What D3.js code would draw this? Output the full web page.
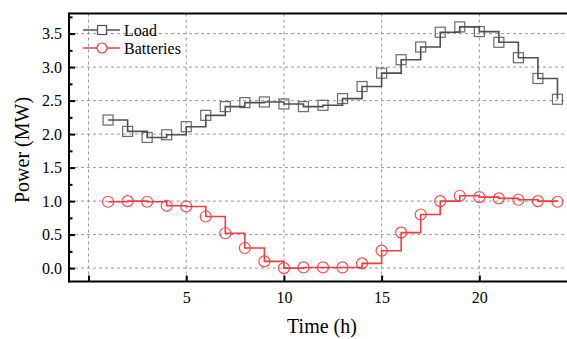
<!DOCTYPE html>
<html>
<head>
<meta charset="utf-8">
<script src="https://cdn.jsdelivr.net/npm/d3@7"></script>
<style>
  body { margin: 0; background: #fff; }
  svg { display: block; }
  text { font-family: "Liberation Serif", "Times New Roman", serif; fill: #000; }
</style>
</head>
<body>
<svg id="chart" width="567" height="339"></svg>
<script>
const hours = [1,2,3,4,5,6,7,8,9,10,11,12,13,14,15,16,17,18,19,20,21,22,23,24];
const load = [2.21,2.04,1.95,1.99,2.11,2.28,2.41,2.47,2.48,2.45,2.41,2.43,2.53,2.71,2.91,3.11,3.30,3.52,3.60,3.53,3.37,3.14,2.83,2.52];
const batteries = [0.99,1.00,0.99,0.93,0.92,0.77,0.52,0.30,0.10,0.00,0.01,0.01,0.01,0.07,0.26,0.53,0.80,1.00,1.08,1.06,1.04,1.02,1.00,0.99];
const xTicks = [0,5,10,15,20];
const xTickLabels = ["","5","10","15","20"];
const yTicks = [0,0.5,1.0,1.5,2.0,2.5,3.0,3.5];
const yMinorTicks = [0.25,0.75,1.25,1.75,2.25,2.75,3.25,3.75];
const seriesNames = ["Load","Batteries"];
const seriesColors = ["#505050","#f43c3c"];

(function () {
const svg = d3.select("#chart");
const x = d3.scaleLinear().domain([-1, 25]).range([69, 577]);
const y = d3.scaleLinear().domain([-0.2, 3.8]).range([281.5, 13.5]);
const pLeft = 69, pRight = 567, pTop = 13.5, pBottom = 281.5;
const serif = "'Liberation Serif', 'Times New Roman', serif";

// gridlines
const grid = svg.append("g");
grid.selectAll("line.v").data(xTicks).join("line").attr("class", "v")
  .attr("x1", d => x(d)).attr("x2", d => x(d))
  .attr("y1", pTop).attr("y2", pBottom)
  .attr("stroke", "#9a9a9a").attr("stroke-width", 1).attr("stroke-dasharray", "3,3");
grid.selectAll("line.h").data(yTicks).join("line").attr("class", "h")
  .attr("x1", pLeft).attr("x2", pRight)
  .attr("y1", d => y(d)).attr("y2", d => y(d))
  .attr("stroke", "#9a9a9a").attr("stroke-width", 1).attr("stroke-dasharray", "3,3");

// series
const lineGen = d3.line().x(d => x(d[0])).y(d => y(d[1])).curve(d3.curveStepAfter);
const loadPts = hours.map((h,i) => [h, load[i]]);
const batPts = hours.map((h,i) => [h, batteries[i]]);

svg.append("path").datum(loadPts).attr("d", lineGen)
  .attr("fill", "none").attr("stroke", seriesColors[0]).attr("stroke-width", 1.6);
svg.append("g").selectAll("rect").data(loadPts).join("rect")
  .attr("x", d => x(d[0]) - 5).attr("y", d => y(d[1]) - 5)
  .attr("width", 10).attr("height", 10)
  .attr("fill", "none").attr("stroke", seriesColors[0]).attr("stroke-width", 1.2).attr("stroke-opacity", 0.85);

svg.append("path").datum(batPts).attr("d", lineGen)
  .attr("fill", "none").attr("stroke", seriesColors[1]).attr("stroke-width", 1.6);
svg.append("g").selectAll("circle").data(batPts).join("circle")
  .attr("cx", d => x(d[0])).attr("cy", d => y(d[1])).attr("r", 5.5)
  .attr("fill", "none").attr("stroke", seriesColors[1]).attr("stroke-width", 1.2).attr("stroke-opacity", 0.9);

// axes
const yAxis = d3.axisLeft(y).tickValues(yTicks).tickFormat(d3.format(".1f")).tickSizeInner(-6).tickSizeOuter(0).tickPadding(7);
const gy = svg.append("g").attr("transform", `translate(${pLeft},0)`).call(yAxis)
  .attr("font-family", serif).attr("font-size", 16);
gy.select(".domain").remove();
gy.selectAll(".tick line").attr("stroke", "#000").attr("stroke-width", 2);
gy.selectAll(".tick text").style("font-size", "16px").style("font-family", serif).attr("fill", "#000");
const gym = svg.append("g").attr("transform", `translate(${pLeft},0)`)
  .call(d3.axisLeft(y).tickValues(yMinorTicks).tickFormat("").tickSizeInner(-3.5).tickSizeOuter(0));
gym.select(".domain").remove();
gym.selectAll(".tick line").attr("stroke", "#000").attr("stroke-width", 2);

const xAxis = d3.axisBottom(x).tickValues(xTicks).tickFormat((d,i) => xTickLabels[i]).tickSizeInner(-6).tickSizeOuter(0).tickPadding(10);
const gx = svg.append("g").attr("transform", `translate(0,${pBottom})`).call(xAxis)
  .attr("font-family", serif).attr("font-size", 16);
gx.select(".domain").remove();
gx.selectAll(".tick line").attr("stroke", "#000").attr("stroke-width", 2);
gx.selectAll(".tick text").style("font-size", "16px").style("font-family", serif).attr("fill", "#000");

// frame
svg.append("line").attr("x1", pLeft).attr("x2", pRight).attr("y1", pTop).attr("y2", pTop).attr("stroke", "#000").attr("stroke-width", 2);
svg.append("line").attr("x1", pLeft).attr("x2", pRight).attr("y1", pBottom).attr("y2", pBottom).attr("stroke", "#000").attr("stroke-width", 2);
svg.append("line").attr("x1", pLeft).attr("x2", pLeft).attr("y1", pTop - 1).attr("y2", pBottom + 1).attr("stroke", "#000").attr("stroke-width", 2);

// axis titles
svg.append("text").attr("x", 322).attr("y", 333).attr("text-anchor", "middle")
  .style("font-size", "20px").text("Time (h)");
svg.append("text").attr("transform", "translate(29,150) rotate(-90)").attr("text-anchor", "middle")
  .style("font-size", "20px").text("Power (MW)");

// legend
const legend = svg.append("g");
const legY = [30, 48];
seriesNames.forEach((name, i) => {
  const g = legend.append("g");
  g.append("line").attr("x1", 83).attr("x2", 120).attr("y1", legY[i]).attr("y2", legY[i])
    .attr("stroke", seriesColors[i]).attr("stroke-width", 1.6);
  if (i === 0) {
    g.append("rect").attr("x", 97.5).attr("y", legY[i] - 4.5).attr("width", 9).attr("height", 9)
      .attr("fill", "#fff").attr("stroke", seriesColors[i]).attr("stroke-width", 1.2);
  } else {
    g.append("circle").attr("cx", 102).attr("cy", legY[i]).attr("r", 5)
      .attr("fill", "#fff").attr("stroke", seriesColors[i]).attr("stroke-width", 1.2);
  }
  g.append("text").attr("x", 124).attr("y", legY[i] + 5.5).style("font-size", "16px").text(name);
});
})();
</script>
</body>
</html>
